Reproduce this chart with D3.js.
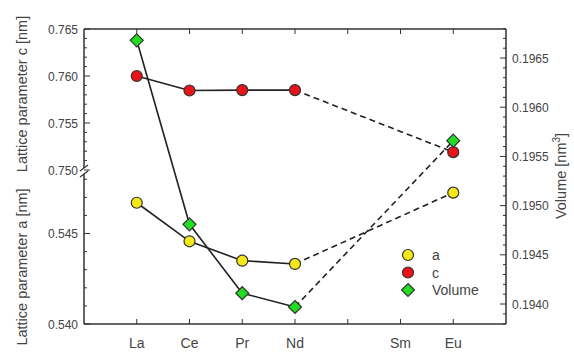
<!DOCTYPE html>
<html><head><meta charset="utf-8">
<script src="https://cdn.jsdelivr.net/npm/d3@7"></script>
<style>body{margin:0;background:#fff}svg{display:block;font-family:"Liberation Sans",Arial,sans-serif}</style>
</head><body><svg id="c" width="574" height="355"></svg>
<script>
const elements = ["La","Ce","Pr","Nd","Pm","Sm","Eu"];
const tickLabels = ["La","Ce","Pr","Nd","","Sm","Eu"];
const seriesElements = ["La","Ce","Pr","Nd","Eu"];
const aValues = [0.5467, 0.54457, 0.5435, 0.54332, 0.54726];
const cValues = [0.7600, 0.75846, 0.7585, 0.7585, 0.7519];
const volValues = [0.19668, 0.19481, 0.19411, 0.19397, 0.19566];
const cTicks = [0.750, 0.755, 0.760, 0.765];
const aTicks = [0.540, 0.545];
const vTicks = [0.1940, 0.1945, 0.1950, 0.1955, 0.1960, 0.1965];

const svg = d3.select("#c");
const L = 84, R = 506, T = 29, B = 324, BRK = 171;
const x = d3.scaleLinear().domain([0, 8]).range([L, R]);
const xi = n => x(elements.indexOf(n) + 1);
const yc = d3.scaleLinear().domain([0.750, 0.765]).range([170, T]);
const ya = d3.scaleLinear().domain([0.540, 0.5484]).range([B, 172]);
const yv = d3.scaleLinear().domain([0.193797, 0.196795]).range([B, T]);
const ink = "#333", txt = "#444";

// frame
svg.append("line").attr("x1", L).attr("x2", R).attr("y1", T).attr("y2", T).attr("stroke", ink).attr("stroke-width", 1.5);
svg.append("line").attr("x1", L).attr("x2", R).attr("y1", B).attr("y2", B).attr("stroke", ink).attr("stroke-width", 1.5);
svg.append("line").attr("x1", R).attr("x2", R).attr("y1", T).attr("y2", B).attr("stroke", ink).attr("stroke-width", 1.5);
svg.append("line").attr("x1", L).attr("x2", L).attr("y1", T).attr("y2", BRK - 3).attr("stroke", ink).attr("stroke-width", 1.5);
svg.append("line").attr("x1", L).attr("x2", L).attr("y1", BRK + 3).attr("y2", B).attr("stroke", ink).attr("stroke-width", 1.5);
// break marks
[-3, 3].forEach(d => svg.append("line").attr("x1", L - 4).attr("x2", L + 4)
  .attr("y1", BRK + d + 3).attr("y2", BRK + d - 3).attr("stroke", ink).attr("stroke-width", 1.2));

// x ticks
elements.forEach((e, i) => {
  const xx = x(i + 1);
  svg.append("line").attr("x1", xx).attr("x2", xx).attr("y1", B).attr("y2", B - 5).attr("stroke", ink).attr("stroke-width", 1);
  svg.append("line").attr("x1", xx).attr("x2", xx).attr("y1", T).attr("y2", T + 5).attr("stroke", ink).attr("stroke-width", 1);
  svg.append("text").attr("x", xx).attr("y", 348).attr("text-anchor", "middle").attr("font-size", 14).attr("fill", txt).text(tickLabels[i]);
});

// left ticks (upper c)
d3.range(0.750, 0.7651, 0.001).forEach(v => {
  const major = Math.abs(Math.round(v * 200) - v * 200) < 1e-6;
  svg.append("line").attr("x1", L).attr("x2", L + (major ? 6 : 3)).attr("y1", yc(v)).attr("y2", yc(v)).attr("stroke", ink).attr("stroke-width", 1);
});
cTicks.forEach(v => svg.append("text").attr("x", 78).attr("y", yc(v) + 4.5).attr("text-anchor", "end").attr("font-size", 12).attr("fill", txt).text(v.toFixed(3)));
// left ticks (lower a)
d3.range(0.540, 0.5481, 0.001).forEach(v => {
  const major = Math.abs(Math.round(v * 200) - v * 200) < 1e-6;
  svg.append("line").attr("x1", L).attr("x2", L + (major ? 6 : 3)).attr("y1", ya(v)).attr("y2", ya(v)).attr("stroke", ink).attr("stroke-width", 1);
});
aTicks.forEach(v => svg.append("text").attr("x", 78).attr("y", ya(v) + 4.5).attr("text-anchor", "end").attr("font-size", 12).attr("fill", txt).text(v.toFixed(3)));
// right ticks
d3.range(0.1938, 0.19680, 0.0001).forEach(v => {
  const major = Math.abs(Math.round(v * 2000) - v * 2000) < 1e-6;
  if (yv(v) > B + 0.5 || yv(v) < T - 0.5) return;
  svg.append("line").attr("x1", R).attr("x2", R - (major ? 6 : 3)).attr("y1", yv(v)).attr("y2", yv(v)).attr("stroke", ink).attr("stroke-width", 1);
});
vTicks.forEach(v => svg.append("text").attr("x", 512).attr("y", yv(v) + 4.5).attr("font-size", 12).attr("fill", txt).text(v.toFixed(4)));

// axis titles
svg.append("text").attr("transform", "translate(27,94) rotate(-90)").attr("text-anchor", "middle").attr("font-size", 14.5).attr("fill", txt).text("Lattice parameter c [nm]");
svg.append("text").attr("transform", "translate(27,267) rotate(-90)").attr("text-anchor", "middle").attr("font-size", 14.5).attr("fill", txt).text("Lattice parameter a [nm]");
const vt = svg.append("text").attr("transform", "translate(566,176) rotate(-90)").attr("text-anchor", "middle").attr("font-size", 14.5).attr("fill", txt);
vt.append("tspan").text("Volume [nm");
vt.append("tspan").attr("font-size", 10).attr("dy", -6).text("3");
vt.append("tspan").attr("dy", 6).text("]");

// series
function drawSeries(vals, yScale) {
  const pts = seriesElements.map((e, i) => [xi(e), yScale(vals[i])]);
  svg.append("path").attr("d", d3.line()(pts.slice(0, 4))).attr("fill", "none").attr("stroke", "#222").attr("stroke-width", 1.6);
  svg.append("path").attr("d", d3.line()(pts.slice(3))).attr("fill", "none").attr("stroke", "#222").attr("stroke-width", 1.6).attr("stroke-dasharray", "6,4");
  return pts;
}
const series = [
  {vals: aValues, y: ya, color: "#f5e81a", shape: "circle", name: "a"},
  {vals: cValues, y: yc, color: "#e8141a", shape: "circle", name: "c"},
  {vals: volValues, y: yv, color: "#22dd22", shape: "diamond", name: "Volume"}
];
const allPts = series.map(s => drawSeries(s.vals, s.y));
function marker(g, cx, cy, s) {
  if (s.shape === "circle") g.append("circle").attr("cx", cx).attr("cy", cy).attr("r", 5.5).attr("fill", s.color).attr("stroke", "#333").attr("stroke-width", 1.2);
  else g.append("path").attr("d", `M${cx},${cy-6.5}L${cx+6.5},${cy}L${cx},${cy+6.5}L${cx-6.5},${cy}Z`).attr("fill", s.color).attr("stroke", "#333").attr("stroke-width", 1.2);
}
series.forEach((s, k) => allPts[k].forEach(p => marker(svg, p[0], p[1], s)));

// legend
series.forEach((s, k) => {
  const ly = 255 + k * 17.5;
  marker(svg, 408, ly, s);
  svg.append("text").attr("x", 432).attr("y", ly + 5).attr("font-size", 14).attr("fill", txt).text(s.name);
});
</script></body></html>
